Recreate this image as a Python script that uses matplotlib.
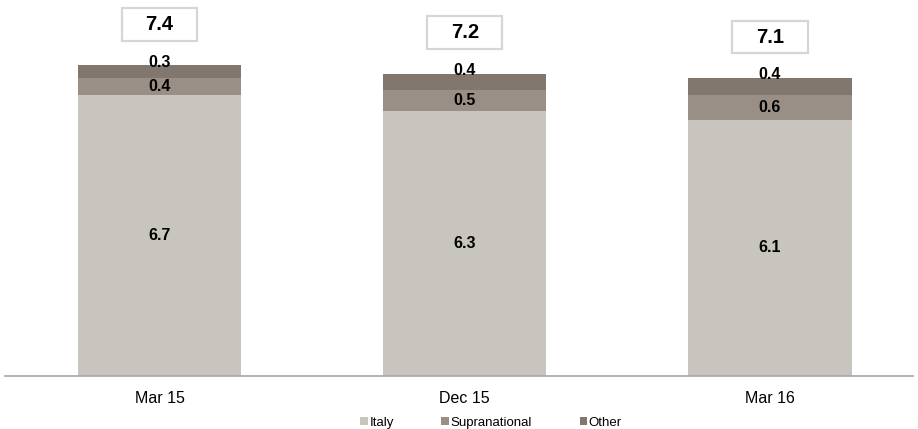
import numpy as np
import matplotlib.pyplot as plt
from matplotlib.patches import Patch, Rectangle

plt.rcParams['font.family'] = ['Liberation Sans', 'DejaVu Sans']

# Data
periods = ['Mar 15', 'Dec 15', 'Mar 16']
italy = [6.7, 6.3, 6.1]
supranational = [0.4, 0.5, 0.6]
other = [0.3, 0.4, 0.4]
totals = [7.4, 7.2, 7.1]

colors = {'Italy': '#C8C4BE', 'Supranational': '#9A8F86', 'Other': '#82776F'}

fig = plt.figure(figsize=(9.18, 4.29), dpi=100)
ax = fig.add_axes([0.005, 0.1235, 0.99, 0.8765])

x = np.arange(len(periods))
width = 0.535
italy = np.array(italy)
supra = np.array(supranational)
oth = np.array(other)

ax.bar(x, italy, width, color=colors['Italy'])
ax.bar(x, supra, width, bottom=italy, color=colors['Supranational'])
ax.bar(x, oth, width, bottom=italy + supra, color=colors['Other'])

# Segment labels
lab_fs = 11.5
for i in range(len(x)):
    ax.text(x[i], italy[i] / 2, f'{italy[i]:.1f}', ha='center', va='center',
            fontsize=lab_fs, fontweight='bold')
    ax.text(x[i], italy[i] + supra[i] / 2, f'{supra[i]:.1f}', ha='center', va='center',
            fontsize=lab_fs, fontweight='bold')
    ax.text(x[i], italy[i] + supra[i] + oth[i] + 0.07, f'{oth[i]:.1f}', ha='center',
            va='center', fontsize=lab_fs, fontweight='bold')
    # Total in a box
    yc = totals[i] + 0.97
    bw, bh = 0.246, 0.78
    ax.add_patch(Rectangle((x[i] - bw / 2, yc - bh / 2), bw, bh, facecolor='white',
                           edgecolor='#D6D6D6', linewidth=1.6, clip_on=False))
    ax.text(x[i], yc, f'{totals[i]:.1f}', ha='center', va='center',
            fontsize=14.5, fontweight='bold')

ax.set_xlim(-0.508, 2.47)
ax.set_ylim(0, 376 / 42)

ax.set_xticks(x)
ax.set_xticklabels(periods, fontsize=11.5)
ax.tick_params(axis='x', length=0, pad=11)
ax.set_yticks([])
for side in ['top', 'right', 'left']:
    ax.spines[side].set_visible(False)
ax.spines['bottom'].set_color('#A6A6A6')
ax.spines['bottom'].set_linewidth(1.2)

handles = [Patch(facecolor=colors[k], label=k) for k in ['Italy', 'Supranational', 'Other']]
fig.legend(handles=handles, loc='center', bbox_to_anchor=(0.535, 0.014), ncol=3,
           frameon=False, fontsize=9.5, handlelength=0.55, handleheight=0.55,
           handletextpad=0.15, columnspacing=3.6)

fig.savefig('out.png', dpi=100)
